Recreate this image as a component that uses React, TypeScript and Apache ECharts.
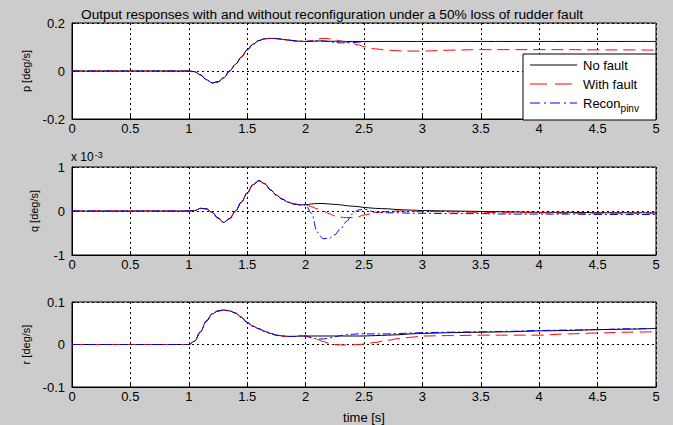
import React, { useEffect, useRef } from "react";
import * as echarts from "echarts";

// time grid (s)
const T = [0, 1.0,
  1.05, 1.1, 1.15, 1.2, 1.25, 1.3, 1.35, 1.4, 1.45, 1.5,
  1.55, 1.6, 1.65, 1.7, 1.75, 1.8, 1.85, 1.9, 1.95, 2.0,
  2.05, 2.1, 2.15, 2.2, 2.25, 2.3, 2.35, 2.4, 2.45, 2.5,
  2.6, 2.7, 2.8, 2.9, 3.0,
  3.25, 3.5, 3.75, 4.0, 4.25, 4.5, 4.75, 5.0];

// p [deg/s]
const pNoFault = [0, 0,
  -0.003, -0.016, -0.036, -0.05, -0.045, -0.028, 0.0, 0.028, 0.058, 0.088,
  0.112, 0.127, 0.134, 0.136, 0.135, 0.132, 0.129, 0.126, 0.124, 0.123,
  0.124, 0.125, 0.125, 0.124, 0.124, 0.124, 0.123, 0.123, 0.123, 0.123,
  0.123, 0.123, 0.123, 0.123, 0.123,
  0.123, 0.123, 0.123, 0.123, 0.123, 0.123, 0.123, 0.123];
const pWithFault = [0, 0,
  -0.003, -0.016, -0.036, -0.05, -0.045, -0.028, 0.0, 0.028, 0.058, 0.088,
  0.112, 0.127, 0.134, 0.136, 0.135, 0.132, 0.129, 0.126, 0.124, 0.123,
  0.127, 0.133, 0.136, 0.134, 0.13, 0.125, 0.12, 0.115, 0.109, 0.101,
  0.092, 0.087, 0.084, 0.083, 0.083,
  0.087, 0.089, 0.089, 0.089, 0.089, 0.088, 0.088, 0.087];
const pRecon = [0, 0,
  -0.003, -0.016, -0.036, -0.05, -0.045, -0.028, 0.0, 0.028, 0.058, 0.088,
  0.112, 0.127, 0.134, 0.136, 0.135, 0.132, 0.129, 0.126, 0.124, 0.123,
  0.124, 0.126, 0.125, 0.122, 0.119, 0.117, 0.117, 0.118, 0.12, 0.122,
  0.123, 0.123, 0.123, 0.123, 0.123,
  0.123, 0.123, 0.123, 0.123, 0.123, 0.123, 0.123, 0.123];

// q [deg/s], in units of 10^-3
const qNoFault = [0, 0,
  0.01, 0.06, 0.05, -0.03, -0.16, -0.26, -0.17, 0.0, 0.2, 0.41,
  0.6, 0.69, 0.62, 0.48, 0.36, 0.27, 0.2, 0.16, 0.14, 0.14,
  0.16, 0.17, 0.17, 0.16, 0.15, 0.14, 0.12, 0.11, 0.1, 0.08,
  0.06, 0.05, 0.03, 0.02, 0.01,
  0.0, -0.01, -0.02, -0.03, -0.03, -0.04, -0.04, -0.04];
const qWithFault = [0, 0,
  0.01, 0.06, 0.05, -0.03, -0.16, -0.26, -0.17, 0.0, 0.2, 0.41,
  0.6, 0.69, 0.62, 0.48, 0.36, 0.27, 0.2, 0.16, 0.14, 0.14,
  0.1, 0.05, 0.0, -0.06, -0.11, -0.14, -0.15, -0.15, -0.13, -0.09,
  -0.04, -0.01, 0.0, 0.0, -0.01,
  -0.02, -0.03, -0.04, -0.04, -0.05, -0.05, -0.05, -0.05];
const qRecon = [0, 0,
  0.01, 0.06, 0.05, -0.03, -0.16, -0.26, -0.17, 0.0, 0.2, 0.41,
  0.6, 0.69, 0.62, 0.48, 0.36, 0.27, 0.2, 0.16, 0.14, 0.14,
  -0.05, -0.48, -0.63, -0.62, -0.54, -0.4, -0.24, -0.07, 0.02, 0.04,
  -0.03, -0.04, -0.04, -0.05, -0.05,
  -0.06, -0.06, -0.07, -0.07, -0.07, -0.08, -0.08, -0.08];

// r [deg/s]
const rNoFault = [0, 0,
  0.008, 0.03, 0.055, 0.072, 0.079, 0.081, 0.079, 0.074, 0.064, 0.052,
  0.043, 0.037, 0.031, 0.026, 0.022, 0.02, 0.019, 0.019, 0.02, 0.02,
  0.02, 0.02, 0.02, 0.02, 0.02, 0.02, 0.02, 0.02, 0.02, 0.02,
  0.021, 0.022, 0.023, 0.025, 0.026,
  0.028, 0.029, 0.03, 0.032, 0.033, 0.035, 0.036, 0.038];
const rWithFault = [0, 0,
  0.008, 0.03, 0.055, 0.072, 0.079, 0.081, 0.079, 0.074, 0.064, 0.052,
  0.043, 0.037, 0.031, 0.026, 0.022, 0.02, 0.019, 0.019, 0.02, 0.02,
  0.017, 0.012, 0.007, 0.003, 0.0, -0.001, -0.001, -0.001, 0.0, 0.001,
  0.005, 0.01, 0.014, 0.017, 0.02,
  0.021, 0.022, 0.022, 0.022, 0.025, 0.027, 0.029, 0.03];
const rRecon = [0, 0,
  0.008, 0.03, 0.055, 0.072, 0.079, 0.081, 0.079, 0.074, 0.064, 0.052,
  0.043, 0.037, 0.031, 0.026, 0.022, 0.02, 0.019, 0.019, 0.02, 0.02,
  0.016, 0.013, 0.013, 0.015, 0.018, 0.021, 0.023, 0.024, 0.025, 0.025,
  0.025, 0.025, 0.026, 0.027, 0.028,
  0.029, 0.03, 0.031, 0.033, 0.034, 0.035, 0.037, 0.038];

const seriesNames = ["No fault", "With fault", "Recon"];
const yNames = ["p [deg/s]", "q [deg/s]", "r [deg/s]"];
const yRanges = [[-0.2, 0.2, 0.2], [-1, 1, 1], [-0.1, 0.1, 0.1]];
const titleText = "Output responses with and without reconfiguration under a 50% loss of rudder fault";

const FONT = "Liberation Sans, Arial, sans-serif";

export default function App() {
  const ref = useRef<HTMLDivElement>(null);
  useEffect(() => {
    if (!ref.current) return;
    const chart = echarts.init(ref.current, null, { renderer: "svg" });
    const grids = [
      { left: 72, top: 23, width: 584, height: 96 },
      { left: 72, top: 167, width: 584, height: 88 },
      { left: 72, top: 302, width: 584, height: 88 },
    ].map((g) => ({ ...g, show: true, backgroundColor: "#ffffff", borderColor: "#000", borderWidth: 1 }));

    const fmt = (v: number) => String(parseFloat(v.toFixed(4)));
    const xAxes = grids.map((_, i) => ({
      type: "value",
      gridIndex: i,
      min: 0,
      max: 5,
      interval: 0.5,
      axisLine: { show: true, onZero: false, lineStyle: { color: "#000", width: 1 } },
      axisTick: { show: true, inside: true, length: 4, lineStyle: { color: "#000" } },
      axisLabel: { color: "#000", fontSize: 13, fontFamily: FONT, margin: 3, formatter: fmt },
      splitLine: { show: true, lineStyle: { color: "#000", type: [2, 3], width: 1 } },
      name: i === 2 ? "time [s]" : "",
      nameLocation: "middle",
      nameGap: 24,
      nameTextStyle: { color: "#000", fontSize: 13, fontFamily: FONT },
    }));
    const yAxes = grids.map((_, i) => ({
      type: "value",
      gridIndex: i,
      min: yRanges[i][0],
      max: yRanges[i][1],
      interval: yRanges[i][2],
      axisLine: { show: true, onZero: false, lineStyle: { color: "#000", width: 1 } },
      axisTick: { show: true, inside: true, length: 4, lineStyle: { color: "#000" } },
      axisLabel: { color: "#000", fontSize: 13, fontFamily: FONT, margin: 7, formatter: fmt },
      splitLine: { show: true, lineStyle: { color: "#000", type: [2, 3], width: 1 } },
      name: yNames[i],
      nameLocation: "middle",
      nameGap: 33,
      nameRotate: 90,
      nameTextStyle: { color: "#000", fontSize: 11, fontFamily: FONT },
    }));

    const sets = [
      [pNoFault, pWithFault, pRecon],
      [qNoFault, qWithFault, qRecon],
      [rNoFault, rWithFault, rRecon],
    ];
    const styles: { color: string; type: any; dash: number[] | null }[] = [
      { color: "#000000", type: "solid", dash: null },
      { color: "#ff0000", type: [12, 6], dash: [17, 8] },
      { color: "#0000ff", type: [8, 3, 2, 3], dash: [10, 4, 2, 4] },
    ];
    const series: any[] = [];
    sets.forEach((set, gi) => {
      set.forEach((vals, si) => {
        series.push({
          type: "line",
          name: seriesNames[si],
          xAxisIndex: gi,
          yAxisIndex: gi,
          data: T.map((t, k) => [t, vals[k]]),
          showSymbol: false,
          symbol: "none",
          smooth: 0.35,
          smoothMonotone: "x",
          lineStyle: { color: styles[si].color, type: styles[si].type, width: 1 },
          itemStyle: { color: styles[si].color },
          z: 2 + si,
        });
      });
    });

    // legend box drawn as graphics (top-right of first axes)
    const lgX = 523, lgY = 54, lgW = 133, lgH = 66;
    const rowY = [65, 84, 103];
    const legendEls: any[] = [
      {
        type: "rect",
        shape: { x: lgX, y: lgY, width: lgW, height: lgH },
        style: { fill: "#ffffff", stroke: "#000000", lineWidth: 1 },
        z: 100,
      },
    ];
    seriesNames.forEach((name, i) => {
      legendEls.push({
        type: "line",
        shape: { x1: 530, y1: rowY[i], x2: 577, y2: rowY[i] },
        style: { stroke: styles[i].color, lineWidth: 1, lineDash: styles[i].dash || undefined },
        z: 101,
      });
      legendEls.push({
        type: "text",
        x: 583,
        y: rowY[i],
        style: i === 2
          ? {
              text: "{a|Recon}{b|pinv}",
              verticalAlign: "middle",
              rich: {
                a: { fontSize: 13, fontFamily: FONT, fill: "#000" },
                b: { fontSize: 10, fontFamily: FONT, fill: "#000", padding: [10, 0, 0, 0] },
              },
            }
          : { text: name, fontSize: 13, fontFamily: FONT, fill: "#000", verticalAlign: "middle" },
        z: 101,
      });
    });

    chart.setOption({
      animation: false,
      backgroundColor: "#cccccc",
      title: {
        text: titleText,
        left: 76,
        top: 2,
        textStyle: { color: "#000", fontSize: 13.7, fontWeight: "normal", fontFamily: FONT },
      },
      grid: grids,
      xAxis: xAxes,
      yAxis: yAxes,
      graphic: [
        {
          type: "text",
          x: 71,
          y: 146,
          style: {
            text: "{a|x 10}{b|-3}",
            rich: {
              a: { fontSize: 12, fontFamily: FONT, fill: "#000", padding: [5, 0, 0, 0] },
              b: { fontSize: 9, fontFamily: FONT, fill: "#000", padding: [0, 0, 0, 1] },
            },
          },
        },
        ...legendEls,
      ],
      series,
    });
    return () => chart.dispose();
  }, []);
  return (
    <div
      ref={ref}
      style={{ position: "absolute", left: 0, top: 0, width: 673, height: 425 }}
    />
  );
}
